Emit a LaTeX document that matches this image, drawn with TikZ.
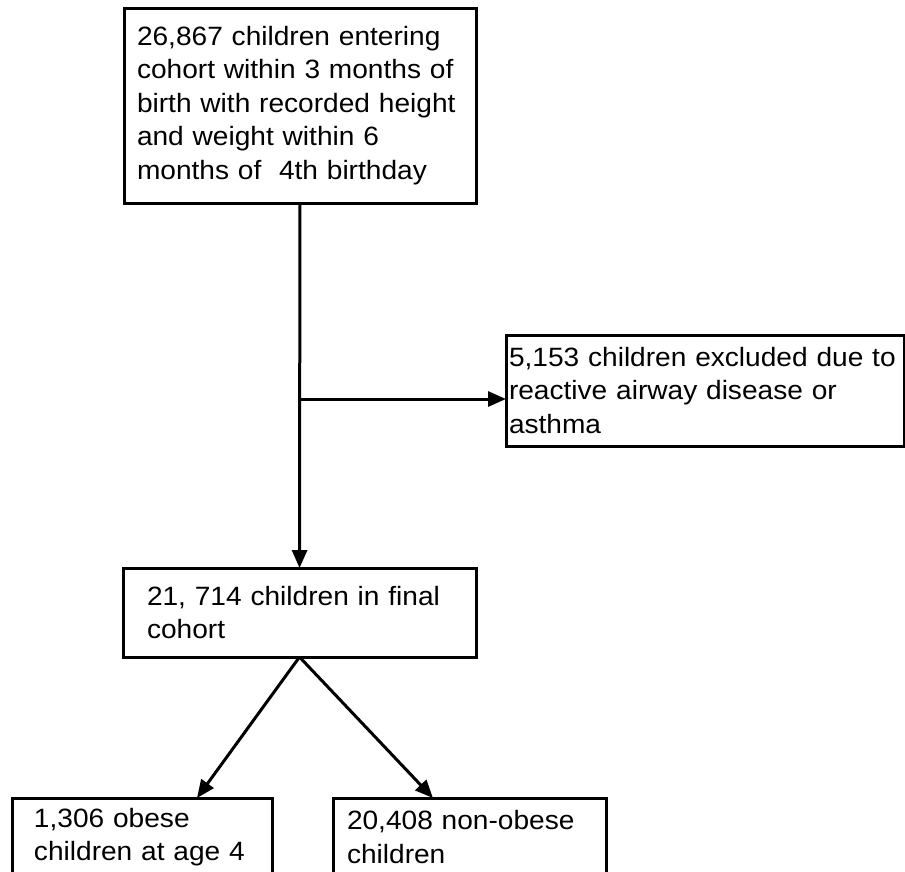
\documentclass[tikz,border=0pt]{standalone}
\usepackage{fontspec}
\setmainfont{Liberation Sans}[FakeStretch=1.06]
\usetikzlibrary{arrows.meta,calc}
\begin{document}
\begin{tikzpicture}[
    x=1pt, y=-1pt,
    box/.style={draw, line width=3pt, outer sep=0pt, inner ysep=0pt,
        align=left, anchor=north west, font=\fontsize{26.5}{33.5}\selectfont},
    arr/.style={draw, line width=3pt, -{Triangle[length=18pt,width=15pt]}}
]
\useasboundingbox (0,0) rectangle (905,871);
\node[box, text width=326pt, inner xsep=13pt, minimum height=195pt] (entry) at (124,8)
    {26,867 children entering\\cohort within 3 months of\\birth with recorded height\\and weight within 6\\months of~ 4th birthday};
\node[box, text width=392pt, inner xsep=3pt, minimum height=111pt] (excl) at (506,335)
    {5,153 children excluded due to\\reactive airway disease or\\asthma};
\node[box, text width=305pt, inner xsep=24pt, minimum height=89pt] (final) at (123,568)
    {21, 714 children in final\\cohort};
\node[box, text width=216pt, inner xsep=22pt, minimum height=78pt] (obese) at (12,798)
    {1,306 obese\\children at age 4};
\node[box, text width=245pt, inner xsep=14pt, minimum height=78pt] (nonobese) at (333,798)
    {20,408 non-obese\\children};
\coordinate (split) at ($(entry.south)!0.537!(final.north)$);
\coordinate (obesetip) at ($(obese.north west)+(185,0)$);
\coordinate (nonobesetip) at ($(nonobese.north west)+(100,0)$);
\draw[arr] (entry) -- (final);
\draw[arr] (split) -- (split -| excl.west);
\draw[arr] (final.south) -- (obesetip);
\draw[arr] (final.south) -- (nonobesetip);
\end{tikzpicture}
\end{document}
